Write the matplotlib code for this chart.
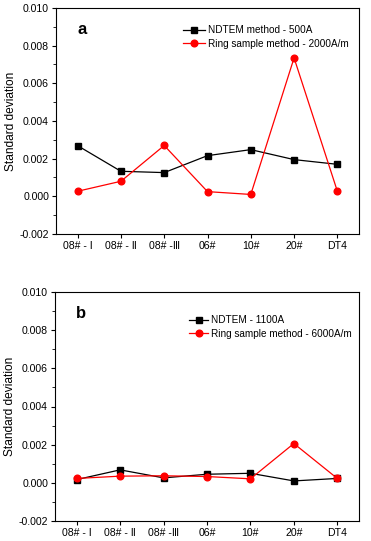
import numpy as np
import matplotlib.pyplot as plt

plt.rcParams['font.family'] = ['Liberation Sans', 'DejaVu Sans', 'Noto Sans CJK SC']

samples = ['08# - Ⅰ', '08# - Ⅱ', '08# -Ⅲ', '06#', '10#', '20#', 'DT4']

# panel a
ndtem_a = [0.00269, 0.00133, 0.00126, 0.00216, 0.00248, 0.00195, 0.00170]
ring_a = [0.00027, 0.00080, 0.00270, 0.00025, 0.00010, 0.00735, 0.00027]
# panel b
ndtem_b = [0.00017, 0.00068, 0.00026, 0.00045, 0.00050, 0.00010, 0.00023]
ring_b = [0.00023, 0.00035, 0.00037, 0.00033, 0.00021, 0.00206, 0.00023]

fig = plt.figure(figsize=(3.71, 5.41), dpi=100)
ax1 = fig.add_axes([56/371, 1-234/541, 303/371, 226/541])
ax2 = fig.add_axes([55/371, 1-521/541, 304/371, 229/541])

x = np.arange(len(samples))

def panel(ax, black, red, lab_black, lab_red, letter, leg_loc, hl):
    ax.plot(x, black, color='black', marker='s', ms=4.2, lw=0.9, label=lab_black)
    ax.plot(x, red, color='red', marker='o', ms=4.8, lw=0.9, label=lab_red)
    ax.set_xlim(-0.5, 6.5)
    ax.set_ylim(-0.002, 0.010)
    ax.set_yticks(np.arange(-0.002, 0.0101, 0.002))
    ax.set_yticks(np.arange(-0.002, 0.0101, 0.001), minor=True)
    ax.yaxis.set_major_formatter(plt.FuncFormatter(lambda v, p: f'{v:.3f}'))
    ax.set_xticks(x)
    ax.set_xticklabels(samples)
    ax.tick_params(axis='both', labelsize=7.6, direction='out', length=3, width=0.8, pad=2)
    ax.tick_params(axis='y', which='minor', direction='out', length=2)
    ax.tick_params(axis='x', which='minor', bottom=False)
    ax.set_ylabel('Standard deviation', fontsize=8.6, labelpad=2)
    ax.text(0.07, 0.885, letter, transform=ax.transAxes, fontsize=12, fontweight='bold')
    ax.legend(loc='upper right', bbox_to_anchor=leg_loc, fontsize=7.2, frameon=False,
              handlelength=hl, borderaxespad=0.2, labelspacing=0.35, handletextpad=0.25)
    for s in ax.spines.values():
        s.set_linewidth(0.8)

panel(ax1, ndtem_a, ring_a, 'NDTEM method - 500A', 'Ring sample method - 2000A/m', 'a', (0.985, 0.95), 2.2)
panel(ax2, ndtem_b, ring_b, 'NDTEM - 1100A', 'Ring sample method - 6000A/m', 'b', (0.995, 0.925), 1.9)

fig.savefig('out.png', dpi=100)
